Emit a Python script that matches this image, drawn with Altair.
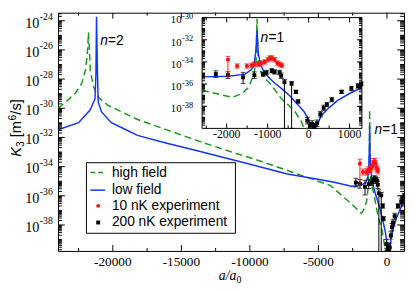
import altair as alt
import pandas as pd

# ---------------- data ----------------
# high field theory curve (green dashed): a/a0 and log10 K3
high_a = [-24000, -23450, -22730, -22260, -21975, -21830, -21780, -21710, -21640, -21420,
          -21065, -20350, -19400, -18200, -16000, -13900, -11500, -9620, -6545, -4110,
          -2600, -2265, -1866, -1627, -1468, -1349, -1285, -1260, -1230, -1150,
          -910, -670, -350, -190, -110, 0]
high_lg = [-30.01, -29.58, -28.97, -28.28, -27.3, -25.89, -24.8, -25.89, -27.4, -28.5,
           -29.25, -29.8, -30.23, -30.77, -31.5, -32.2, -32.95, -33.5, -34.5, -35.3,
           -36.55, -36.85, -37.2, -36.85, -36.3, -35.25, -34.1, -30.1, -34.1, -35.1,
           -36.1, -37.3, -38.4, -39.3, -40.0, -42.0]
# low field theory curve (blue solid)
low_a = [-24000, -22500, -21660, -21300, -21230, -21190, -21120, -21065, -20830, -20110,
         -19155, -18200, -16060, -13910, -10340, -7260, -4830, -3680, -2600, -1950,
         -1550, -1390, -1325, -1285, -1260, -1230, -1170, -1070, -950, -830,
         -630, -450, -250, -110, 0, 60, 120, 210, 300, 450, 700, 1000, 1300]
low_lg = [-31.47, -30.99, -30.12, -29.36, -27.6, -23.72, -27.6, -29.58, -30.23, -30.99,
          -31.42, -31.86, -32.4, -32.9, -33.75, -34.5, -34.9, -35.1, -35.35, -35.3,
          -35.1, -34.67, -34.09, -32.9, -31.2, -33.2, -34.3, -35.0, -35.5, -35.9,
          -36.5, -37.1, -37.9, -38.5, -39.2, -39.7, -41.0, -39.7, -38.9, -38.3, -37.5, -36.85, -36.3]
# 200 nK experiment (black squares): a, log10 K3, error down / up (decades)
e200_a = [-2265, -1970, -1600, -1325, -1110, -1030, -900, -830, -710, -670,
          -590, -416, -310, -256, -33, 31, 86, 143, 206, 287,
          366, 445, 565, 804, 1043, 1203, 1282]
e200_lg = [-35.1, -35.19, -35.39, -35.2, -35.1, -34.96, -34.8, -34.9, -34.96, -35.25,
           -35.83, -35.97, -36.7, -37.57, -39.3, -39.74, -39.6, -39.83, -39.54, -38.72,
           -38.15, -37.85, -37.4, -36.7, -36.4, -36.17, -35.97]
e200_dn = [0.3, 0.3, 0.55, 0.3, 0.2, 0.2, 0.2, 0.2, 0.2, 0.25,
           9.0, 9.0, 0.15, 0.15, 0.3, 0.3, 0.3, 0.3, 0.3, 0.25,
           0.25, 0.2, 0.2, 0.15, 0.2, 0.2, 0.15]
e200_up = [0.3, 0.3, 0.45, 0.3, 0.2, 0.2, 0.2, 0.2, 0.2, 0.25,
           0.25, 0.2, 0.15, 0.15, 0.3, 0.3, 0.3, 0.3, 0.3, 0.25,
           0.25, 0.2, 0.2, 0.15, 0.2, 0.2, 0.15]
# 10 nK experiment (red dots)
e10_a = [-1970, -1746, -1507, -1387, -1325, -1230, -1150, -1070, -990, -950,
         -895, -830, -765, -710, -655]
e10_lg = [-33.8, -34.37, -34.37, -34.3, -34.2, -34.2, -34.1, -34.0, -33.8, -33.65,
          -33.65, -33.8, -34.1, -34.2, -34.3]
e10_dn = [1.5, 0.2, 0.2, 0.2, 0.2, 0.2, 0.2, 0.2, 0.2, 0.2, 0.2, 0.2, 0.2, 0.2, 0.2]
e10_up = [0.3, 0.2, 0.2, 0.2, 0.2, 0.2, 0.2, 0.2, 0.2, 0.2, 0.2, 0.2, 0.2, 0.2, 0.2]

# axes
main_xticks = [-20000, -15000, -10000, -5000, 0]
main_xminor = [-22500, -17500, -12500, -7500, -2500]
main_xlabels = ["-20000", "-15000", "-10000", "-5000", "0"]
main_yexp = [-24, -26, -28, -30, -32, -34, -36, -38]
main_ylabels = ["-24", "-26", "-28", "-30", "-32", "-34", "-36", "-38"]
inset_xticks = [-2000, -1000, 0, 1000]
inset_xminor = [-2500, -1500, -500, 500]
inset_xlabels = ["-2000", "-1000", "0", "1000"]
inset_yexp = [-30, -32, -34, -36, -38]
inset_ylabels = ["-30", "-32", "-34", "-36", "-38"]
legend_labels = ["high field", "low field", "10 nK experiment", "200 nK experiment"]

# ---------------- styling / layout ----------------
G, B, R = "#1b9a1b", "#1234ff", "#ff1010"
SERIF, SANS = "Liberation Serif", "Liberation Sans"
W, H = 353, 243
MXD = [-24000, 1250]
MYD = [10 ** -39.78, 10 ** -23.45]
IXD = [-2600, 1300]
IYD = [1e-40, 1e-30]
IX0, IX1 = 147, 310
IY0, IY1 = 118, 5


def mx(f):
    return alt.X(f, type="quantitative", scale=alt.Scale(domain=MXD, nice=False, zero=False), axis=None)


def my(f):
    return alt.Y(f, type="quantitative", scale=alt.Scale(type="log", domain=MYD, nice=False), axis=None)


def ix(f):
    return alt.X(f, type="quantitative",
                 scale=alt.Scale(domain=IXD, range=[IX0, IX1], nice=False, zero=False, clamp=True), axis=None)


def iy(f):
    return alt.Y(f, type="quantitative",
                 scale=alt.Scale(type="log", domain=IYD, range=[IY0, IY1], nice=False, clamp=True), axis=None)


def curve_df(a, lg):
    return pd.DataFrame({"a": a, "K": [10.0 ** v for v in lg], "i": list(range(len(a)))})


def exp_df(a, lg, dn, up):
    return pd.DataFrame({"a": a, "K": [10.0 ** v for v in lg],
                         "lo": [10.0 ** (v - d) for v, d in zip(lg, dn)],
                         "hi": [10.0 ** (v + u) for v, u in zip(lg, up)]})


high = curve_df(high_a, high_lg)
low = curve_df(low_a, low_lg)
e200 = exp_df(e200_a, e200_lg, e200_dn, e200_up)
e10 = exp_df(e10_a, e10_lg, e10_dn, e10_up)
one = pd.DataFrame({"k": [0]})


def plot_layers(xf, yf, clip, inset):
    h, l, b, r = high, low, e200, e10
    if inset:
        h = h[(h.a >= IXD[0]) & (h.a <= IXD[1])]
        l = l[(l.a >= IXD[0]) & (l.a <= IXD[1])]
    out = [
        alt.Chart(h).mark_line(color=G, strokeDash=[7, 4], strokeWidth=1.5, clip=clip)
        .encode(x=xf("a"), y=yf("K"), order="i:Q"),
        alt.Chart(l).mark_line(color=B, strokeWidth=1.5, clip=clip)
        .encode(x=xf("a"), y=yf("K"), order="i:Q"),
    ]
    for df, col, mk in ((b, "black", "square"), (r, R, "circle")):
        out.append(alt.Chart(df).mark_rule(color=col, strokeWidth=1, clip=clip)
                   .encode(x=xf("a"), y=yf("lo"), y2=alt.Y2("hi")))
        for f in ("lo", "hi"):
            out.append(alt.Chart(df).mark_tick(color=col, orient="horizontal", size=5, thickness=1, clip=clip)
                       .encode(x=xf("a"), y=yf(f)))
        if mk == "square":
            out.append(alt.Chart(df).mark_square(color=col, size=16, opacity=1, clip=clip)
                       .encode(x=xf("a"), y=yf("K")))
        else:
            out.append(alt.Chart(df).mark_circle(color=col, size=18, opacity=1, clip=clip)
                       .encode(x=xf("a"), y=yf("K")))
    return out


def rule(df, **enc):
    return alt.Chart(df).mark_rule(color="black", strokeWidth=1).encode(**enc)


def minor_decades(lo, hi, majors, dom):
    vals = []
    for n in range(lo, hi):
        for k in range(1, 10):
            if k == 1 and n in majors:
                continue
            v = k * 10.0 ** n
            if dom[0] * 1.0001 < v < dom[1] * 0.9999:
                vals.append(v)
    return vals


def text(df, xenc, yenc, txt, size, font=SERIF, align="center", dy=0, dx=0, italic=False, angle=None):
    kw = dict(font=font, fontSize=size, align=align, baseline="alphabetic", dy=dy, dx=dx, color="black")
    if italic:
        kw["fontStyle"] = "italic"
    if angle is not None:
        kw["angle"] = angle
    return alt.Chart(df).mark_text(**kw).encode(x=xenc, y=yenc, text=txt)


layers = []
# ---- main plot ----
layers += plot_layers(mx, my, True, False)

mxt = pd.DataFrame({"v": main_xticks})
mxm = pd.DataFrame({"v": main_xminor})
myt = pd.DataFrame({"K": [10.0 ** e for e in main_yexp], "t": main_ylabels})
mym = pd.DataFrame({"v": minor_decades(-40, -23, main_yexp, MYD)})
layers += [
    rule(mxt, x=mx("v"), y=alt.value(H), y2=alt.value(H - 6)),
    rule(mxt, x=mx("v"), y=alt.value(0), y2=alt.value(6)),
    rule(mxm, x=mx("v"), y=alt.value(H), y2=alt.value(H - 3)),
    rule(mxm, x=mx("v"), y=alt.value(0), y2=alt.value(3)),
    rule(myt, y=my("K"), x=alt.value(0), x2=alt.value(7)),
    rule(myt, y=my("K"), x=alt.value(W), x2=alt.value(W - 7)),
    rule(mym, y=my("v"), x=alt.value(0), x2=alt.value(4)),
    rule(mym, y=my("v"), x=alt.value(W), x2=alt.value(W - 4)),
]
mxl = pd.DataFrame({"v": main_xticks, "t": main_xlabels})
layers += [
    text(mxl, mx("v"), alt.value(H + 15), "t:N", 13.5),
    text(myt, alt.value(-19), my("K"), alt.value("10"), 14.5, align="right", dy=7),
    text(myt, alt.value(-18.5), my("K"), "t:N", 10, align="left", dy=-1),
]
# axis titles
layers += [
    text(one, alt.value(164), alt.value(H + 30), alt.value("a/a"), 14, italic=True, align="left"),
    text(one, alt.value(182), alt.value(H + 33), alt.value("0"), 10, align="left"),
    text(one, alt.value(-38), alt.value(147), alt.value("K"), 15, font=SANS, italic=True, align="left", angle=270),
    text(one, alt.value(-35), alt.value(137), alt.value("3"), 10.5, font=SANS, align="left", angle=270),
    text(one, alt.value(-38), alt.value(127), alt.value("[m"), 15, font=SANS, align="left", angle=270),
    text(one, alt.value(-42.5), alt.value(110), alt.value("6"), 10.5, font=SANS, align="left", angle=270),
    text(one, alt.value(-38), alt.value(104), alt.value("/s]"), 15, font=SANS, align="left", angle=270),
]
# resonance labels in the main plot
n2 = pd.DataFrame({"a": [-20920], "K": [10 ** -25.69]})
n1 = pd.DataFrame({"a": [-915], "K": [10 ** -31.75]})
for df in (n2, n1):
    layers.append(text(df, mx("a"), my("K"), alt.value("n"), 14, font=SANS, italic=True, align="left"))
layers.append(text(n2, mx("a"), my("K"), alt.value("=2"), 14, font=SANS, align="left", dx=8))
layers.append(text(n1, mx("a"), my("K"), alt.value("=1"), 14, font=SANS, align="left", dx=8))

# ---- legend ----
leg = pd.DataFrame({"row": [0, 1, 2, 3], "t": legend_labels})
layers += [
    alt.Chart(one).mark_rect(fill="white", stroke="black", strokeWidth=1)
    .encode(x=alt.value(29), x2=alt.value(181), y=alt.value(153), y2=alt.value(225)),
    alt.Chart(one).mark_rule(color=G, strokeDash=[5, 3], strokeWidth=1.5)
    .encode(x=alt.value(33), x2=alt.value(48), y=alt.value(163)),
    alt.Chart(one).mark_rule(color=B, strokeWidth=1.5)
    .encode(x=alt.value(33), x2=alt.value(48), y=alt.value(181)),
    alt.Chart(one).mark_circle(color=R, size=16, opacity=1).encode(x=alt.value(41), y=alt.value(197)),
    alt.Chart(one).mark_square(color="black", size=16, opacity=1).encode(x=alt.value(41), y=alt.value(214)),
    alt.Chart(leg).mark_text(font=SANS, fontSize=14, align="left", baseline="alphabetic", color="black")
    .encode(x=alt.value(55),
            y=alt.Y("row:Q", scale=alt.Scale(domain=[0, 3], range=[168, 218]), axis=None),
            text="t:N"),
]

# ---- inset ----
frame = pd.DataFrame({"a0": [IXD[0]], "a1": [IXD[1]], "k0": [IYD[0]], "k1": [IYD[1]]})
layers.append(alt.Chart(frame).mark_rect(fill="white", stroke="black", strokeWidth=1)
              .encode(x=ix("a0"), x2=alt.X2("a1"), y=iy("k0"), y2=alt.Y2("k1")))
layers += plot_layers(ix, iy, False, True)
ixt = pd.DataFrame({"v": inset_xticks, "t": inset_xlabels})
ixm = pd.DataFrame({"v": inset_xminor})
iyt = pd.DataFrame({"K": [10.0 ** e for e in inset_yexp], "t": inset_ylabels})
iym = pd.DataFrame({"v": minor_decades(-40, -30, inset_yexp + [-40], IYD)})
layers += [
    rule(ixt, x=ix("v"), y=alt.value(IY0), y2=alt.value(IY0 - 5)),
    rule(ixt, x=ix("v"), y=alt.value(IY1), y2=alt.value(IY1 + 5)),
    rule(ixm, x=ix("v"), y=alt.value(IY0), y2=alt.value(IY0 - 3)),
    rule(ixm, x=ix("v"), y=alt.value(IY1), y2=alt.value(IY1 + 3)),
    rule(iyt, y=iy("K"), x=alt.value(IX0), x2=alt.value(IX0 + 5)),
    rule(iyt, y=iy("K"), x=alt.value(IX1), x2=alt.value(IX1 - 5)),
    rule(iym, y=iy("v"), x=alt.value(IX0), x2=alt.value(IX0 + 3)),
    rule(iym, y=iy("v"), x=alt.value(IX1), x2=alt.value(IX1 - 3)),
    text(ixt, ix("v"), alt.value(IY0 + 10), "t:N", 12),
    text(iyt, alt.value(IX0 - 21), iy("K"), alt.value("10"), 11, align="right", dy=6),
    text(iyt, alt.value(IX0 - 20.5), iy("K"), "t:N", 8.5, align="left", dy=1.5),
]
n1i = pd.DataFrame({"a": [-1172], "K": [10 ** -32.17]})
layers.append(text(n1i, ix("a"), iy("K"), alt.value("n"), 14, font=SANS, italic=True, align="left"))
layers.append(text(n1i, ix("a"), iy("K"), alt.value("=1"), 14, font=SANS, align="left", dx=8))

chart = (
    alt.layer(*layers)
    .resolve_scale(x="independent", y="independent")
    .properties(width=W, height=H, background="white",
                autosize=alt.AutoSizeParams(type="none"),
                padding={"left": 51, "top": 2, "right": 3, "bottom": 35})
    .configure_view(stroke="black", strokeWidth=1)
)
chart.save("out.html", embed_options={"renderer": "svg", "actions": False})
